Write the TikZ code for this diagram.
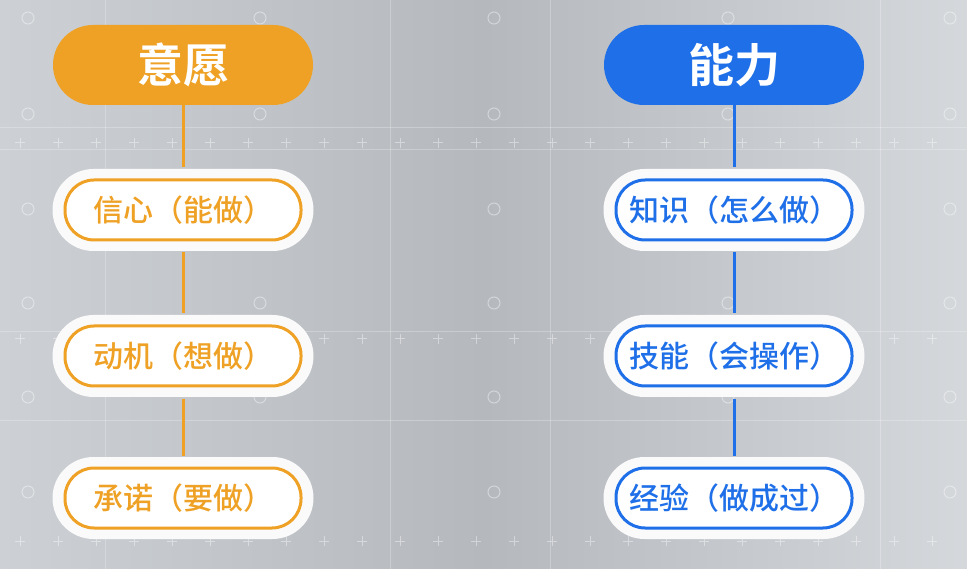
\documentclass[tikz,border=0pt]{standalone}
\usepackage{fontspec}
\newfontfamily\cjk{Noto Sans CJK SC Medium}
\newfontfamily\cjkb{Noto Sans CJK SC Bold}
\newcommand{\lpar}{\makebox[1em][r]{（}}
\newcommand{\rpar}{\makebox[1em][l]{）}}
\definecolor{orangeC}{HTML}{EEA124}
\definecolor{blueC}{HTML}{1F70E8}
\definecolor{bgA}{HTML}{CDD1D5}
\definecolor{bgB}{HTML}{B5B9BE}
\begin{document}
\begin{tikzpicture}[x=1pt,y=-1pt,
  header/.style={rounded corners=40pt,minimum width=260pt,minimum height=80pt,inner sep=0pt,text=white,font=\cjkb\fontsize{46}{50}\selectfont},
  item/.style={rounded corners=29pt,minimum width=236pt,minimum height=60pt,inner sep=0pt,line width=3pt,fill=white,font=\cjk\fontsize{30}{34}\selectfont},
  halo/.style={rounded corners=41pt,minimum width=261pt,minimum height=82pt,fill=white!96!gray,inner sep=0pt},
  conn/.style={line width=3pt},
  deco/.style={white,opacity=0.4,line width=1pt}]
\useasboundingbox (0,0) rectangle (967,569);
\shade[left color=bgA,right color=bgA!85!white,middle color=bgB] (0,0) rectangle (967,569);
% faint circuit decoration
\foreach \y in {143,339,541}{
  \foreach \x in {20,58,...,960}{
    \draw[deco] (\x-5,\y) -- (\x+5,\y) (\x,\y-5) -- (\x,\y+5);}}
\foreach \x in {28,494,950}{
  \foreach \y in {18,114,209,303,397,492}{
    \draw[deco] (\x,\y) circle (6);}}
\foreach \x in {260,728}{
  \foreach \y in {18,114,303,397}{
    \draw[deco] (\x,\y) circle (6);}}
\draw[deco,opacity=0.25] (0,128) -- (967,128) (0,150) -- (967,150) (0,332) -- (967,332) (0,420) -- (967,420);
\draw[deco,opacity=0.25] (105,0) -- (105,569) (390,0) -- (390,569) (550,0) -- (550,569) (880,0) -- (880,569);
% left column
\node[header,fill=orangeC] (h1) at (183,65) {意愿};
\node[halo] at (183,210) {};
\node[halo] at (183,356) {};
\node[halo] at (183,498) {};
\node[item,draw=orangeC,text=orangeC] (a1) at (183,210) {信心\lpar 能做\rpar};
\node[item,draw=orangeC,text=orangeC] (a2) at (183,356) {动机\lpar 想做\rpar};
\node[item,draw=orangeC,text=orangeC] (a3) at (183,498) {承诺\lpar 要做\rpar};
% right column
\node[header,fill=blueC] (h2) at (734,65) {能力};
\node[halo] at (734,210) {};
\node[halo] at (734,356) {};
\node[halo] at (734,498) {};
\node[item,draw=blueC,text=blueC] (b1) at (734,210) {知识\lpar 怎么做\rpar};
\node[item,draw=blueC,text=blueC] (b2) at (734,356) {技能\lpar 会操作\rpar};
\node[item,draw=blueC,text=blueC] (b3) at (734,498) {经验\lpar 做成过\rpar};
\draw[conn,orangeC] (h1.south) -- ([yshift=11pt]a1.north);
\draw[conn,orangeC] ([yshift=-11pt]a1.south) -- ([yshift=11pt]a2.north);
\draw[conn,orangeC] ([yshift=-11pt]a2.south) -- ([yshift=11pt]a3.north);
\draw[conn,blueC] (h2.south) -- ([yshift=11pt]b1.north);
\draw[conn,blueC] ([yshift=-11pt]b1.south) -- ([yshift=11pt]b2.north);
\draw[conn,blueC] ([yshift=-11pt]b2.south) -- ([yshift=11pt]b3.north);
\end{tikzpicture}
\end{document}
